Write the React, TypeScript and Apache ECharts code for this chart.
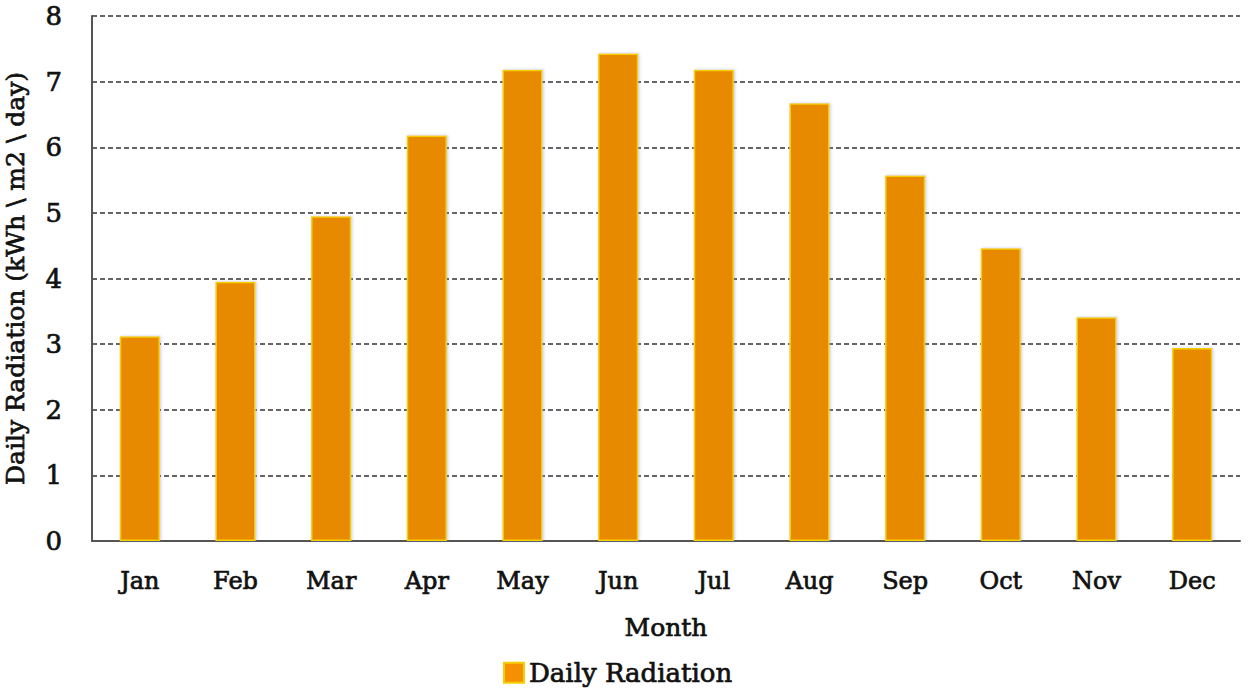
import React, { useEffect, useRef } from "react";
import * as echarts from "echarts";

const months = ["Jan", "Feb", "Mar", "Apr", "May", "Jun", "Jul", "Aug", "Sep", "Oct", "Nov", "Dec"];
const dailyRadiation = [3.12, 3.95, 4.95, 6.18, 7.18, 7.43, 7.18, 6.67, 5.57, 4.46, 3.41, 2.94];
const yTicks = { min: 0, max: 8, interval: 1 };

const FONT = "'DejaVu Serif', 'Liberation Serif', serif";
const EMB = { textBorderColor: "#111", textBorderWidth: 0.7 };

export default function App() {
  const ref = useRef<HTMLDivElement>(null);
  useEffect(() => {
    document.body.style.margin = "0";
    const chart = echarts.init(ref.current!, null, { renderer: "svg" });
    chart.setOption({
      animation: false,
      backgroundColor: "#ffffff",
      textStyle: { fontFamily: FONT },
      grid: { left: 92, right: 10, top: 16, bottom: 158, outerBoundsMode: "none", containLabel: false },
      legend: {
        bottom: 8,
        left: 498,
        icon: "rect",
        itemWidth: 20,
        itemHeight: 20,
        itemGap: 6,
        textStyle: { fontFamily: FONT, fontSize: 26, color: "#111", ...EMB },
        data: [{ name: "Daily Radiation", itemStyle: { color: "#F59000", borderColor: "#F5D000", borderWidth: 2 } }],
      },
      xAxis: {
        type: "category",
        data: months,
        name: "Month",
        nameLocation: "middle",
        nameGap: 74,
        nameTextStyle: { fontFamily: FONT, fontSize: 25, color: "#111", ...EMB },
        axisLine: { lineStyle: { color: "#555", width: 2 } },
        axisTick: { show: false },
        axisLabel: { margin: 28, fontFamily: FONT, fontSize: 24, color: "#111", ...EMB },
      },
      yAxis: {
        type: "value",
        min: yTicks.min,
        max: yTicks.max,
        interval: yTicks.interval,
        name: "Daily Radiation (kWh \\ m2 \\ day)",
        nameLocation: "middle",
        nameGap: 64,
        nameTextStyle: { fontFamily: FONT, fontSize: 25, color: "#111", ...EMB },
        axisLine: { show: true, lineStyle: { color: "#555", width: 2 } },
        axisTick: { show: false },
        axisLabel: { margin: 30, fontFamily: FONT, fontSize: 26, color: "#111", ...EMB },
        splitLine: { lineStyle: { color: "#333", type: [5, 3], width: 1.5 } },
      },
      series: [
        {
          name: "Daily Radiation",
          type: "bar",
          data: dailyRadiation,
          barWidth: "42%",
          itemStyle: {
            color: "#E88A00",
            borderColor: "#F5D000",
            borderWidth: 1.5,
            shadowColor: "rgba(120,140,220,0.45)",
            shadowBlur: 3,
            shadowOffsetX: 1,
          },
        },
      ],
    });
    return () => chart.dispose();
  }, []);
  return <div ref={ref} style={{ width: 1250, height: 699 }} />;
}
